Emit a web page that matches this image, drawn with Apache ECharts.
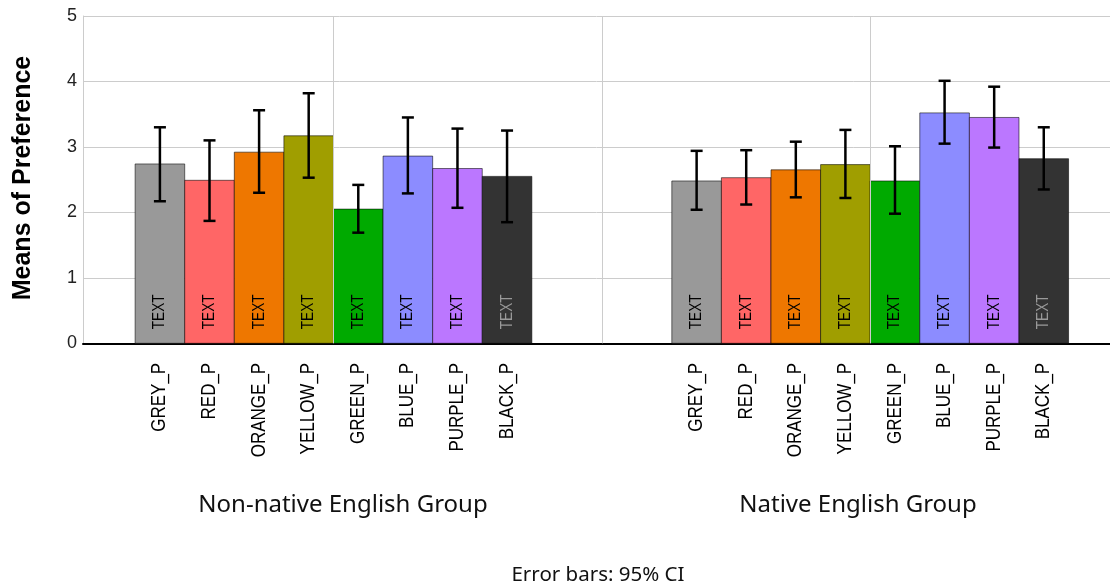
<!DOCTYPE html>
<html>
<head>
<meta charset="utf-8">
<script src="https://cdn.jsdelivr.net/npm/echarts@6/dist/echarts.min.js"></script>
<style>html,body{margin:0;padding:0;background:#fff}#c{width:1110px;height:585px}</style>
</head>
<body>
<div id="c"></div>
<script>
const groups = ['Non-native English Group', 'Native English Group'];
const colorNames = ['GREY_P', 'RED_P', 'ORANGE_P', 'YELLOW_P', 'GREEN_P', 'BLUE_P', 'PURPLE_P', 'BLACK_P'];
const barText = ['TEXT', 'TEXT', 'TEXT', 'TEXT', 'TEXT', 'TEXT', 'TEXT', 'TEXT'];
const nonNativeMeans = [2.74, 2.49, 2.92, 3.17, 2.05, 2.86, 2.67, 2.55];
const nonNativeLow   = [2.17, 1.87, 2.30, 2.53, 1.69, 2.29, 2.07, 1.85];
const nonNativeHigh  = [3.30, 3.10, 3.56, 3.82, 2.42, 3.45, 3.28, 3.25];
const nativeMeans    = [2.48, 2.53, 2.65, 2.73, 2.48, 3.52, 3.45, 2.82];
const nativeLow      = [2.04, 2.12, 2.23, 2.22, 1.98, 3.05, 2.99, 2.35];
const nativeHigh     = [2.94, 2.95, 3.08, 3.26, 3.01, 4.01, 3.92, 3.30];
const yTicks = [0, 1, 2, 3, 4, 5];

const barColors = ['#999999', '#FF6666', '#EE7700', '#A09E00', '#00AA00', '#8C8CFF', '#BB77FF', '#333333'];
const textColors = ['#000', '#000', '#000', '#000', '#000', '#000', '#000', '#999'];
const BAR_W = 0.0924; // in group units

const seriesData = [];
[[nonNativeMeans, nonNativeLow, nonNativeHigh], [nativeMeans, nativeLow, nativeHigh]].forEach((g, gi) => {
  g[0].forEach((m, i) => seriesData.push([gi + 1, i, m, g[1][i], g[2][i]]));
});

const chart = echarts.init(document.getElementById('c'), null, {renderer: 'canvas'});
const FONT = '"Liberation Sans", Arial, sans-serif';

function renderItem(params, api) {
  const gx = api.value(0), idx = api.value(1);
  const mean = api.value(2), lo = api.value(3), hi = api.value(4);
  const bw = api.size([BAR_W, 0])[0];
  const base = api.coord([gx, 0]);
  const cx = base[0] + (idx - 3.5) * bw;
  const by = base[1];
  const top = api.coord([gx, mean])[1];
  const yHi = api.coord([gx, hi])[1];
  const yLo = api.coord([gx, lo])[1];
  const cap = 6;
  return {
    type: 'group',
    children: [
      {type: 'rect', shape: {x: cx - bw / 2, y: top, width: bw, height: by - top},
        style: {fill: barColors[idx], stroke: 'rgba(0,0,0,0.55)', lineWidth: 1}},
      {type: 'text', x: cx, y: by - 14, rotation: Math.PI / 2, scaleX: 0.84,
        style: {text: barText[idx], font: '16.3px ' + FONT, fill: textColors[idx], align: 'left', verticalAlign: 'middle'}},
      {type: 'line', shape: {x1: cx, y1: yHi, x2: cx, y2: yLo}, style: {stroke: '#000', lineWidth: 2.5}},
      {type: 'line', shape: {x1: cx - cap, y1: yHi, x2: cx + cap, y2: yHi}, style: {stroke: '#000', lineWidth: 2.5}},
      {type: 'line', shape: {x1: cx - cap, y1: yLo, x2: cx + cap, y2: yLo}, style: {stroke: '#000', lineWidth: 2.5}},
      {type: 'text', x: cx, y: by + 19.5, rotation: Math.PI / 2, scaleX: 0.85,
        style: {text: colorNames[idx], font: '20px ' + FONT, fill: '#000', align: 'right', verticalAlign: 'middle'}}
    ]
  };
}

const option = {
  animation: false,
  grid: {left: 83, right: 0, top: 16, bottom: 241.7, containLabel: false},
  xAxis: {
    type: 'value', min: 0.5333, max: 2.4468,
    axisLine: {show: true, lineStyle: {color: '#000', width: 2}},
    axisTick: {show: false}, axisLabel: {show: false}, splitLine: {show: false}
  },
  yAxis: {
    type: 'value', min: yTicks[0], max: yTicks[yTicks.length - 1], interval: 1,
    axisLine: {show: true, lineStyle: {color: '#cccccc', width: 1}},
    axisTick: {show: false},
    axisLabel: {fontSize: 18, color: '#222', fontFamily: FONT, margin: 6},
    splitLine: {show: true, lineStyle: {color: '#cccccc', width: 1}}
  },
  graphic: [
    {type: 'text', x: 23, y: 178, rotation: Math.PI / 2,
      style: {text: 'Means of Preference', font: 'bold 25px ' + FONT, fill: '#000', align: 'center', verticalAlign: 'middle'}},
    {type: 'text', x: 343, y: 505,
      style: {text: groups[0], font: '24px "Noto Sans", sans-serif', fill: '#111', align: 'center', verticalAlign: 'middle'}},
    {type: 'text', x: 858, y: 505,
      style: {text: groups[1], font: '24px "Noto Sans", sans-serif', fill: '#111', align: 'center', verticalAlign: 'middle'}},
    {type: 'text', x: 598, y: 575,
      style: {text: 'Error bars: 95% CI', font: '20.5px "Noto Sans", sans-serif', fill: '#111', align: 'center', verticalAlign: 'middle'}}
  ],
  series: [
    {type: 'line', data: [], z: 1, silent: true,
      markLine: {silent: true, symbol: 'none', label: {show: false},
        lineStyle: {color: '#cccccc', width: 1, type: 'solid'},
        data: [{xAxis: 1}, {xAxis: 1.5}, {xAxis: 2}]}},
    {type: 'custom', renderItem: renderItem, data: seriesData, clip: false, z: 3,
      encode: {x: 0, y: 2}}
  ]
};
chart.setOption(option);
</script>
</body>
</html>
